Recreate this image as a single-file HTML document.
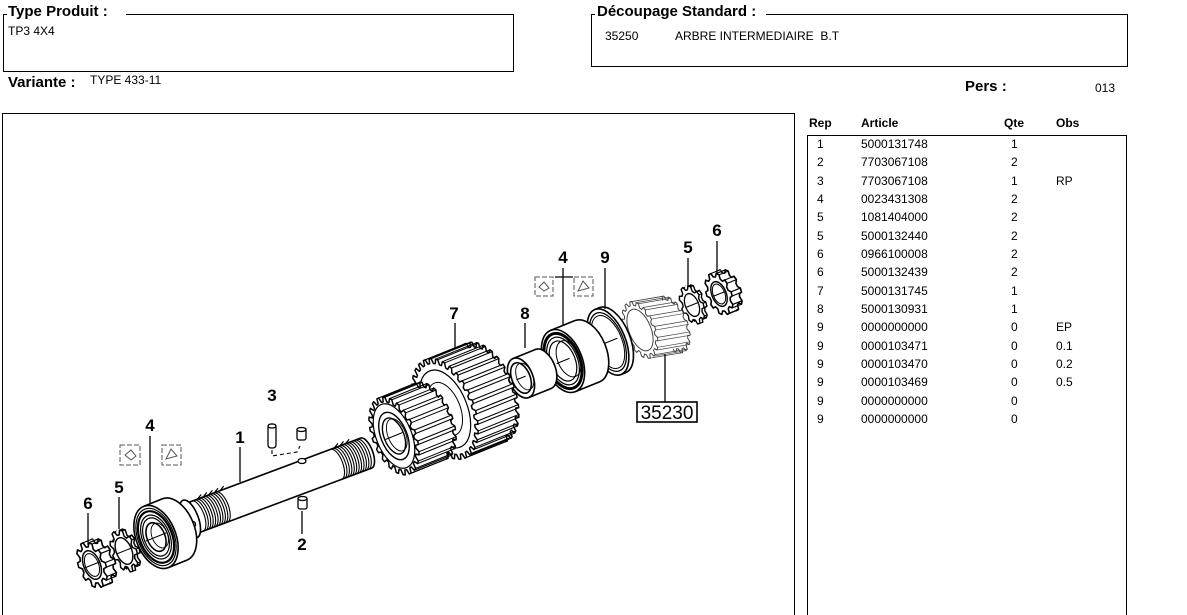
<!DOCTYPE html>
<html style="width:1187px;height:615px;overflow:hidden;"><head><meta charset="utf-8">
<style>
html,body{margin:0;padding:0;background:#fff;}
body{width:1187px;height:615px;position:relative;overflow:hidden;font-family:"Liberation Sans",Arial,sans-serif;color:#000;}
.t{position:absolute;white-space:pre;line-height:1;}
.b{font-weight:bold;font-size:15px;}
.s{font-size:12px;}
.h{font-weight:bold;font-size:12px;}
.box{position:absolute;border:1px solid #000;box-sizing:border-box;}
</style></head><body>

<div class="box" style="left:3px;top:14px;width:511px;height:58px;"></div>
<div class="t b" style="left:7px;top:4px;background:#fff;padding:0 18px 0 1px;">Type Produit :</div>
<div class="t s" style="left:8px;top:25px;">TP3 4X4</div>

<div class="box" style="left:591px;top:14px;width:537px;height:53px;"></div>
<div class="t b" style="left:595px;top:4px;background:#fff;padding:0 10px 0 2px;">Découpage Standard :</div>
<div class="t s" style="left:605px;top:30px;">35250</div>
<div class="t s" style="left:675px;top:30px;">ARBRE INTERMEDIAIRE  B.T</div>

<div class="t b" style="left:8px;top:75px;">Variante :</div>
<div class="t s" style="left:90px;top:74px;">TYPE 433-11</div>
<div class="t b" style="left:965px;top:79px;">Pers :</div>
<div class="t s" style="left:1095px;top:82px;">013</div>

<div class="box" style="left:2px;top:113px;width:793px;height:505px;"></div>
<div class="box" style="left:807px;top:135px;width:320px;height:483px;"></div>

<div class="t h" style="left:809px;top:117px;">Rep</div>
<div class="t h" style="left:861px;top:117px;">Article</div>
<div class="t h" style="left:1004px;top:117px;">Qte</div>
<div class="t h" style="left:1056px;top:117px;">Obs</div>

<div class="t s" style="left:817px;top:138px;">1</div><div class="t s" style="left:861px;top:138px;">5000131748</div><div class="t s" style="left:1011px;top:138px;">1</div>
<div class="t s" style="left:817px;top:156px;">2</div><div class="t s" style="left:861px;top:156px;">7703067108</div><div class="t s" style="left:1011px;top:156px;">2</div>
<div class="t s" style="left:817px;top:175px;">3</div><div class="t s" style="left:861px;top:175px;">7703067108</div><div class="t s" style="left:1011px;top:175px;">1</div><div class="t s" style="left:1056px;top:175px;">RP</div>
<div class="t s" style="left:817px;top:193px;">4</div><div class="t s" style="left:861px;top:193px;">0023431308</div><div class="t s" style="left:1011px;top:193px;">2</div>
<div class="t s" style="left:817px;top:211px;">5</div><div class="t s" style="left:861px;top:211px;">1081404000</div><div class="t s" style="left:1011px;top:211px;">2</div>
<div class="t s" style="left:817px;top:230px;">5</div><div class="t s" style="left:861px;top:230px;">5000132440</div><div class="t s" style="left:1011px;top:230px;">2</div>
<div class="t s" style="left:817px;top:248px;">6</div><div class="t s" style="left:861px;top:248px;">0966100008</div><div class="t s" style="left:1011px;top:248px;">2</div>
<div class="t s" style="left:817px;top:266px;">6</div><div class="t s" style="left:861px;top:266px;">5000132439</div><div class="t s" style="left:1011px;top:266px;">2</div>
<div class="t s" style="left:817px;top:285px;">7</div><div class="t s" style="left:861px;top:285px;">5000131745</div><div class="t s" style="left:1011px;top:285px;">1</div>
<div class="t s" style="left:817px;top:303px;">8</div><div class="t s" style="left:861px;top:303px;">5000130931</div><div class="t s" style="left:1011px;top:303px;">1</div>
<div class="t s" style="left:817px;top:321px;">9</div><div class="t s" style="left:861px;top:321px;">0000000000</div><div class="t s" style="left:1011px;top:321px;">0</div><div class="t s" style="left:1056px;top:321px;">EP</div>
<div class="t s" style="left:817px;top:340px;">9</div><div class="t s" style="left:861px;top:340px;">0000103471</div><div class="t s" style="left:1011px;top:340px;">0</div><div class="t s" style="left:1056px;top:340px;">0.1</div>
<div class="t s" style="left:817px;top:358px;">9</div><div class="t s" style="left:861px;top:358px;">0000103470</div><div class="t s" style="left:1011px;top:358px;">0</div><div class="t s" style="left:1056px;top:358px;">0.2</div>
<div class="t s" style="left:817px;top:376px;">9</div><div class="t s" style="left:861px;top:376px;">0000103469</div><div class="t s" style="left:1011px;top:376px;">0</div><div class="t s" style="left:1056px;top:376px;">0.5</div>
<div class="t s" style="left:817px;top:395px;">9</div><div class="t s" style="left:861px;top:395px;">0000000000</div><div class="t s" style="left:1011px;top:395px;">0</div>
<div class="t s" style="left:817px;top:413px;">9</div><div class="t s" style="left:861px;top:413px;">0000000000</div><div class="t s" style="left:1011px;top:413px;">0</div>

<svg width="1187" height="615" style="position:absolute;left:0;top:0" xmlns="http://www.w3.org/2000/svg">
<g id="art"></g>
<g stroke="#000" stroke-width="1.3" fill="#fff">
 <rect x="268" y="424" width="8" height="24" rx="3"/>
 <ellipse cx="272" cy="426" rx="4" ry="2"/>
 <rect x="297" y="428" width="9" height="12" rx="2"/>
 <ellipse cx="301.5" cy="429.5" rx="4.5" ry="2"/>
 <ellipse cx="302" cy="461" rx="4" ry="2.5"/>
 <rect x="298" y="497" width="9" height="12" rx="2"/>
 <ellipse cx="302.5" cy="498.5" rx="4.5" ry="2"/>
</g>
<path d="M272 450 L272 456 L297 452 L300 446" stroke="#000" stroke-width="1.1" fill="none" stroke-dasharray="4 3"/>
<g stroke="#000" stroke-width="1.3" fill="none">
 <line x1="88" y1="513" x2="88" y2="545"/>
 <line x1="119" y1="497" x2="119" y2="529"/>
 <line x1="150" y1="436" x2="150" y2="503"/>
 <line x1="240" y1="447" x2="240" y2="482"/>
 <line x1="302" y1="511" x2="302" y2="534"/>
 <line x1="455" y1="323" x2="455" y2="349"/>
 <line x1="525" y1="323" x2="525" y2="348"/>
 <line x1="563" y1="268" x2="563" y2="326"/>
 <line x1="555" y1="277" x2="573" y2="277"/>
 <line x1="605" y1="268" x2="605" y2="309"/>
 <line x1="688" y1="258" x2="688" y2="287"/>
 <line x1="717" y1="241" x2="717" y2="274"/>
 <line x1="665" y1="354" x2="665" y2="402"/>
 <rect x="637" y="402" width="60" height="20" stroke-width="1.6"/>
</g>
<g stroke="#555" stroke-width="1" fill="none">
 <rect x="120" y="445" width="20" height="20" stroke-dasharray="5 2"/>
 <path d="M125 455 L131 450 L136 456 L131 460 Z"/>
 <rect x="162" y="445" width="19" height="20" stroke-dasharray="5 2"/>
 <path d="M166 459 L171 449 L177 456 Z"/>
 <rect x="535" y="277" width="18" height="19" stroke-dasharray="5 2"/>
 <path d="M539 287 L544 282 L549 288 L544 291 Z"/>
 <rect x="574" y="277" width="19" height="19" stroke-dasharray="5 2"/>
 <path d="M578 291 L583 281 L589 288 Z"/>
</g>
<g font-family="Liberation Sans, Arial, sans-serif" font-size="17" font-weight="bold" text-anchor="middle" fill="#000">
 <text x="88" y="509">6</text>
 <text x="119" y="493">5</text>
 <text x="150" y="431">4</text>
 <text x="240" y="443">1</text>
 <text x="272" y="401">3</text>
 <text x="302" y="550">2</text>
 <text x="454" y="319">7</text>
 <text x="525" y="319">8</text>
 <text x="563" y="263">4</text>
 <text x="605" y="263">9</text>
 <text x="688" y="253">5</text>
 <text x="717" y="236">6</text>
</g>
<text x="667" y="419" font-family="Liberation Sans, Arial, sans-serif" font-size="19" text-anchor="middle" fill="#000">35230</text>
</svg>

<script>
(function(){
var NS="http://www.w3.org/2000/svg";
var art=document.getElementById('art');
var SW=1.6;
function E(tag,at,par){var e=document.createElementNS(NS,tag);for(var k in at)e.setAttribute(k,at[k]);(par||art).appendChild(e);return e;}
function G(cx,cy,ang){return E('g',{transform:'translate('+cx+','+cy+') rotate('+ang+')'});}
function toothPts(x0,R,r,k,n,ph,dy){
  var p=[],w=2*Math.PI/n;dy=dy||0;
  for(var i=0;i<n;i++){
    var a=i*w+(ph||0);
    var L=[[r,a],[R,a+w*0.18],[R,a+w*0.5],[r,a+w*0.68]];
    for(var j=0;j<4;j++){var rad=L[j][0],t=L[j][1];p.push((x0+k*rad*Math.cos(t)).toFixed(2)+','+(rad*Math.sin(t)+dy).toFixed(2));}
  }
  return p.join(' ');
}
function cyl(g,x0,L,R,k,o){
  o=o||{};
  var sw=o.sw||SW,col=o.col||'#000',hel=o.hel||0;
  if(o.n){E('polygon',{points:toothPts(x0+L,R,o.r,k,o.n,o.ph,hel),fill:'#fff',stroke:col,'stroke-width':sw,'stroke-linejoin':'round'},g);}
  else{E('ellipse',{cx:x0+L,cy:0,rx:k*R,ry:R,fill:'#fff',stroke:col,'stroke-width':sw},g);}
  E('rect',{x:x0,y:-R,width:L,height:2*R,fill:'#fff'},g);
  if(o.n){
    var w=2*Math.PI/o.n;
    for(var i=0;i<o.n;i++){
      var a=i*w+(o.ph||0);
      [a+w*0.18,a+w*0.5].forEach(function(t){
        if(Math.cos(t)>-0.08){
          var x=k*R*Math.cos(t),y=R*Math.sin(t);
          E('line',{x1:x0+x,y1:y,x2:x0+L+x,y2:y+hel,stroke:col,'stroke-width':sw*0.7},g);
        }
      });
    }
  }else{
    E('line',{x1:x0,y1:-R,x2:x0+L,y2:-R,stroke:col,'stroke-width':sw},g);
    E('line',{x1:x0,y1:R,x2:x0+L,y2:R,stroke:col,'stroke-width':sw},g);
  }
  if(o.n){E('polygon',{points:toothPts(x0,R,o.r,k,o.n,o.ph,0),fill:'#fff',stroke:col,'stroke-width':sw,'stroke-linejoin':'round'},g);}
  else{E('ellipse',{cx:x0,cy:0,rx:k*R,ry:R,fill:'#fff',stroke:col,'stroke-width':sw},g);}
}
function ell(g,x,R,k,o){o=o||{};return E('ellipse',{cx:x,cy:0,rx:k*R,ry:R,fill:o.fill||'none',stroke:o.col||'#000','stroke-width':o.sw||SW},g);}
function cl(g,len){E('line',{x1:-len/2,y1:0,x2:len/2,y2:0,stroke:'#000','stroke-width':1},g);}
var g;
g=G(719,294,-22); cyl(g,0,10,22,0.55,{n:10,r:18}); ell(g,0,13,0.55,{fill:'#fff',sw:1.4}); ell(g,0,10.5,0.55,{sw:1}); cl(g,12);
g=G(692,305,-22); cyl(g,0,3,20,0.55,{n:9,r:16,sw:1.4}); ell(g,0,12,0.55,{fill:'#fff',sw:1.3}); cl(g,12);
g=G(640,330,-22); cyl(g,0,32,30,0.5,{n:16,r:26,col:'#444',sw:1,hel:7}); ell(g,0,22,0.5,{col:'#444',sw:1,fill:'#fff'});
g=G(608,342,-22); cyl(g,0,5,35,0.5); ell(g,0,31,0.5,{sw:1.3,fill:'#fff'}); ell(g,0,28,0.5,{sw:1}); cl(g,20);
g=G(563,361,-22); cyl(g,0,26,33,0.58); ell(g,0,29,0.58,{sw:3}); ell(g,0,25,0.58,{sw:1.2,fill:'#fff'}); ell(g,0,21,0.58,{sw:1.2,fill:'#fff'}); ell(g,6,19,0.58,{sw:1}); cl(g,14);
g=G(521,378,-22); cyl(g,0,24,21,0.57); ell(g,0,16,0.57,{sw:1.6,fill:'#fff'}); ell(g,4,14,0.57,{sw:0.9}); cl(g,10);
g=G(445,409,-22); cyl(g,0,44,53,0.54,{n:30,r:48,sw:1.5}); ell(g,0,41,0.54,{sw:1.2}); ell(g,0,28,0.54,{sw:1});
g=G(394,436,-22); cyl(g,0,40,41,0.52,{n:22,r:36,sw:1.5}); ell(g,0,34,0.52,{sw:1.2}); ell(g,0,25,0.52,{sw:1.4,fill:'#fff'}); ell(g,0,19,0.52,{sw:1.4,fill:'#fff'}); ell(g,3,17,0.52,{sw:0.9}); cl(g,18);
g=G(190,519,-20.5); cyl(g,0,188,16,0.42);
(function(){
  var d='';
  for(var x=8;x<=36;x+=2.6){d+='M'+x.toFixed(1)+',-16 A6.7,16 0 0 1 '+x.toFixed(1)+',16 ';}
  for(var x2=156;x2<=186;x2+=2.6){d+='M'+x2.toFixed(1)+',-16 A6.7,16 0 0 1 '+x2.toFixed(1)+',16 ';}
  E('path',{d:d,fill:'none',stroke:'#000','stroke-width':1.1},g);
  E('path',{d:'M14,-16 l5,-3 M20,-16 l5,-3 M26,-16 l5,-3 M32,-16 l5,-3 M38,-16 l5,-3 M160,-16 l5,-3 M166,-16 l5,-3 M172,-16 l5,-3',stroke:'#000','stroke-width':1.2,fill:'none'},g);
})();
ell(g,0,20,0.42,{fill:'#fff'}); E('ellipse',{cx:1,cy:6,rx:2.5,ry:3,fill:'none',stroke:'#000','stroke-width':1.2},g);
g=G(156,537,-22); cyl(g,0,20,33,0.6); ell(g,0,30,0.6,{sw:1.2}); ell(g,0,27,0.6,{sw:2.2}); ell(g,0,23,0.6,{sw:1.2}); ell(g,0,20,0.6,{sw:1.2,fill:'#fff'}); ell(g,0,15,0.6,{sw:1.6,fill:'#fff'}); ell(g,4,13,0.6,{sw:0.9}); cl(g,22);
g=G(124,551,-22); cyl(g,0,3,22,0.55,{n:9,r:17,sw:1.5}); ell(g,0,14,0.55,{fill:'#fff',sw:1.4}); cl(g,16);
g=G(92,565,-22); cyl(g,0,10,24,0.55,{n:10,r:19}); ell(g,0,15,0.55,{fill:'#fff',sw:1.5}); ell(g,0,12,0.55,{sw:1}); cl(g,18);
})();
</script>
</body></html>
